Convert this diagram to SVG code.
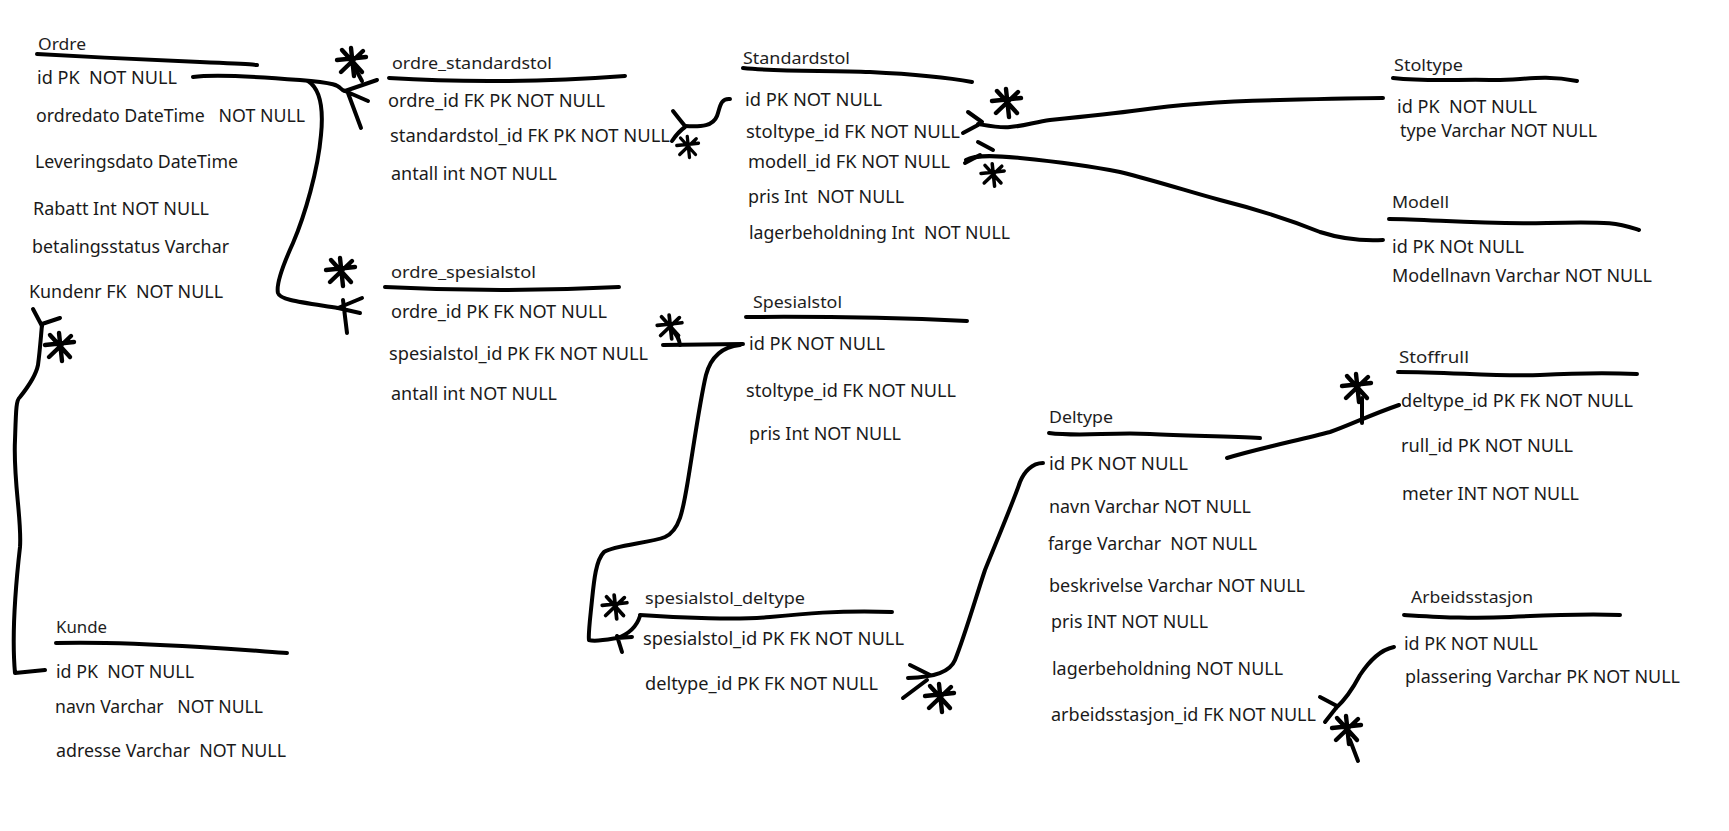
<svg xmlns="http://www.w3.org/2000/svg" xmlns:xlink="http://www.w3.org/1999/xlink" width="1729" height="831" viewBox="0 0 1729 831">
<style>
text{font-family:"Noto Sans","Open Sans","DejaVu Sans",sans-serif;white-space:pre}
.t{font-size:16px;fill:#1e1e1e}
.f{font-size:18px;fill:#1a1a1a}
.ln{fill:none;stroke:#000;stroke-width:4;stroke-linecap:round;stroke-linejoin:round}
.st{fill:none;stroke:#000;stroke-width:4.4;stroke-linecap:round}
</style>
<defs>
<g id="star" class="st">
<path d="M-15 -2 L14 -5 M-10 -12 L10 10 M-1 -14 L2 14 M11 -11 L-11 10"/>
</g>
</defs>
<rect width="1729" height="831" fill="#fff"/>

<g id="connectors">
<!-- Ordre.id -> ordre_standardstol -->
<path class="ln" d="M193 77 C215 74 250 76 300 80 S335 88 345 91"/>
<path class="ln" d="M345 91 L377 80 M345 91 L368 101 M348 93 L361 128 M362 81 L355 68"/>
<use xlink:href="#star" x="352" y="62"/>
<!-- Ordre.id -> ordre_spesialstol -->
<path class="ln" d="M308 81 C322 90 323 115 321 135 C318 170 305 215 293 243 C283 265 276 285 278 293 C280 300 300 302 338 308"/>
<path class="ln" d="M338 308 L362 298 M338 308 L360 313 M343 300 L347 333"/>
<use xlink:href="#star" x="341" y="272"/>
<!-- Kunde.id -> Ordre.Kundenr -->
<path class="ln" d="M45 670 L15 673 C12 640 14 600 20 547 C22 520 13 480 15 440 C16 410 16 400 20 397 C28 387 36 375 38 365 C40 350 41 335 42 325"/>
<path class="ln" d="M42 326 L33 309 M42 324 L60 318"/>
<use xlink:href="#star" x="60" y="347"/>
<!-- Standardstol.id -> ordre_standardstol.standardstol_id -->
<path class="ln" d="M730 99 C720 98 720 108 717 116 C713 126 702 127 685 126"/>
<path class="ln" d="M673 111 Q680 120 685 126 M672 141 Q678 132 685 127"/>
<use xlink:href="#star" x="688" y="147" transform="translate(688 147) scale(0.75) translate(-688 -147)"/>
<!-- Stoltype.id -> Standardstol.stoltype_id -->
<path class="ln" d="M978 124 C990 126 1000 128 1010 127 C1025 126 1035 122 1050 120 C1080 117 1110 114 1140 110 C1180 104 1230 101 1280 100 C1320 99 1360 98 1383 98"/>
<path class="ln" d="M968 112 L982 122 M963 133 L978 125"/>
<use xlink:href="#star" x="1007" y="103"/>
<!-- Modell.id -> Standardstol.modell_id -->
<path class="ln" d="M966 160 C976 154 1000 156 1020 158 C1060 162 1090 166 1120 172 C1160 182 1190 192 1220 200 C1260 210 1290 220 1320 232 C1345 240 1365 241 1383 240"/>
<path class="ln" d="M978 142 L993 150 M965 163 L980 155"/>
<use xlink:href="#star" x="993" y="175" transform="translate(993 175) scale(0.8) translate(-993 -175)"/>
<!-- Spesialstol.id -> ordre_spesialstol.spesialstol_id -->
<path class="ln" d="M663 345 L743 344"/>
<path class="ln" d="M673 331 Q679 337 680 345"/>
<use xlink:href="#star" x="670" y="327" transform="translate(670 327) scale(0.85) translate(-670 -327)"/>
<!-- Spesialstol.id -> spesialstol_deltype.spesialstol_id -->
<path class="ln" d="M740 345 C720 347 710 360 706 375 C700 400 693 450 688 480 C683 510 680 530 665 537 C650 543 615 545 604 552 C596 560 594 580 592 600 C590 620 588 635 589 640 C595 642 605 640 617 638"/>
<path class="ln" d="M617 638 Q635 632 640 616 M617 638 L632 637 M617 636 L622 652"/>
<use xlink:href="#star" x="615" y="607" transform="translate(615 607) scale(0.85) translate(-615 -607)"/>
<!-- Deltype.id -> spesialstol_deltype.deltype_id -->
<path class="ln" d="M1043 463 C1032 463 1024 472 1020 482 C1012 505 995 545 985 570 C975 600 965 635 955 660 C950 672 935 677 908 678"/>
<path class="ln" d="M910 665 L930 675 M903 698 L927 680"/>
<use xlink:href="#star" x="940" y="698"/>
<!-- Deltype.id -> Stoffrull.deltype_id -->
<path class="ln" d="M1227 458 C1260 448 1300 440 1330 432 C1350 425 1370 415 1399 405"/>
<path class="ln" d="M1362 398 L1362 423"/>
<use xlink:href="#star" x="1357" y="388"/>
<!-- Arbeidsstasjon.id -> Deltype.arbeidsstasjon_id -->
<path class="ln" d="M1394 647 C1380 650 1370 660 1360 675 C1352 690 1345 700 1336 708"/>
<path class="ln" d="M1320 697 L1337 706 M1325 722 L1336 708 M1350 740 L1358 761"/>
<use xlink:href="#star" x="1347" y="730"/>
</g>

<g id="Ordre">
<path class="ln" d="M37 54 C90 57 150 60 200 62 S245 64 257 65"/>
<text class="t" x="38" y="50" textLength="48" lengthAdjust="spacingAndGlyphs">Ordre</text>
<text class="f" x="37" y="84" textLength="140" lengthAdjust="spacingAndGlyphs">id PK  NOT NULL</text>
<text class="f" x="36" y="122" textLength="269" lengthAdjust="spacingAndGlyphs">ordredato DateTime   NOT NULL</text>
<text class="f" x="35" y="168" textLength="203" lengthAdjust="spacingAndGlyphs">Leveringsdato DateTime</text>
<text class="f" x="33" y="215" textLength="176" lengthAdjust="spacingAndGlyphs">Rabatt Int NOT NULL</text>
<text class="f" x="32" y="253" textLength="197" lengthAdjust="spacingAndGlyphs">betalingsstatus Varchar</text>
<text class="f" x="29" y="298" textLength="194" lengthAdjust="spacingAndGlyphs">Kundenr FK  NOT NULL</text>
</g>

<g id="Kunde">
<path class="ln" d="M56 643 C90 642 150 644 200 647 S270 652 287 653"/>
<text class="t" x="56" y="633" textLength="51" lengthAdjust="spacingAndGlyphs">Kunde</text>
<text class="f" x="56" y="678" textLength="138" lengthAdjust="spacingAndGlyphs">id PK  NOT NULL</text>
<text class="f" x="55" y="713" textLength="208" lengthAdjust="spacingAndGlyphs">navn Varchar   NOT NULL</text>
<text class="f" x="56" y="757" textLength="230" lengthAdjust="spacingAndGlyphs">adresse Varchar  NOT NULL</text>
</g>

<g id="ordre_standardstol">
<path class="ln" d="M389 78 Q500 85 625 76"/>
<text class="t" x="392" y="69" textLength="160" lengthAdjust="spacingAndGlyphs">ordre_standardstol</text>
<text class="f" x="388" y="107" textLength="217" lengthAdjust="spacingAndGlyphs">ordre_id FK PK NOT NULL</text>
<text class="f" x="390" y="142" textLength="280" lengthAdjust="spacingAndGlyphs">standardstol_id FK PK NOT NULL</text>
<text class="f" x="391" y="180" textLength="166" lengthAdjust="spacingAndGlyphs">antall int NOT NULL</text>
</g>

<g id="Standardstol">
<path class="ln" d="M743 68 C780 72 830 70 870 72 S940 76 972 82"/>
<text class="t" x="743" y="64" textLength="107" lengthAdjust="spacingAndGlyphs">Standardstol</text>
<text class="f" x="745" y="106" textLength="137" lengthAdjust="spacingAndGlyphs">id PK NOT NULL</text>
<text class="f" x="746" y="138" textLength="214" lengthAdjust="spacingAndGlyphs">stoltype_id FK NOT NULL</text>
<text class="f" x="748" y="168" textLength="202" lengthAdjust="spacingAndGlyphs">modell_id FK NOT NULL</text>
<text class="f" x="748" y="203" textLength="156" lengthAdjust="spacingAndGlyphs">pris Int  NOT NULL</text>
<text class="f" x="749" y="239" textLength="261" lengthAdjust="spacingAndGlyphs">lagerbeholdning Int  NOT NULL</text>
</g>

<g id="Stoltype">
<path class="ln" d="M1393 78 C1430 82 1460 79 1490 80 S1540 74 1577 81"/>
<text class="t" x="1394" y="71" textLength="69" lengthAdjust="spacingAndGlyphs">Stoltype</text>
<text class="f" x="1397" y="113" textLength="140" lengthAdjust="spacingAndGlyphs">id PK  NOT NULL</text>
<text class="f" x="1400" y="137" textLength="197" lengthAdjust="spacingAndGlyphs">type Varchar NOT NULL</text>
</g>

<g id="Modell">
<path class="ln" d="M1389 219 C1430 219 1480 225 1547 223 S1620 224 1639 230"/>
<text class="t" x="1392" y="208" textLength="57" lengthAdjust="spacingAndGlyphs">Modell</text>
<text class="f" x="1392" y="253" textLength="132" lengthAdjust="spacingAndGlyphs">id PK NOt NULL</text>
<text class="f" x="1392" y="282" textLength="260" lengthAdjust="spacingAndGlyphs">Modellnavn Varchar NOT NULL</text>
</g>

<g id="ordre_spesialstol">
<path class="ln" d="M385 287 Q500 293 619 287"/>
<text class="t" x="391" y="278" textLength="145" lengthAdjust="spacingAndGlyphs">ordre_spesialstol</text>
<text class="f" x="391" y="318" textLength="216" lengthAdjust="spacingAndGlyphs">ordre_id PK FK NOT NULL</text>
<text class="f" x="389" y="360" textLength="259" lengthAdjust="spacingAndGlyphs">spesialstol_id PK FK NOT NULL</text>
<text class="f" x="391" y="400" textLength="166" lengthAdjust="spacingAndGlyphs">antall int NOT NULL</text>
</g>

<g id="Spesialstol">
<path class="ln" d="M746 317 Q860 316 967 321"/>
<text class="t" x="753" y="308" textLength="89" lengthAdjust="spacingAndGlyphs">Spesialstol</text>
<text class="f" x="749" y="350" textLength="136" lengthAdjust="spacingAndGlyphs">id PK NOT NULL</text>
<text class="f" x="746" y="397" textLength="210" lengthAdjust="spacingAndGlyphs">stoltype_id FK NOT NULL</text>
<text class="f" x="749" y="440" textLength="152" lengthAdjust="spacingAndGlyphs">pris Int NOT NULL</text>
</g>

<g id="spesialstol_deltype">
<path class="ln" d="M640 615 C680 618 740 620 770 617 S840 610 892 612"/>
<text class="t" x="645" y="604" textLength="160" lengthAdjust="spacingAndGlyphs">spesialstol_deltype</text>
<text class="f" x="643" y="645" textLength="261" lengthAdjust="spacingAndGlyphs">spesialstol_id PK FK NOT NULL</text>
<text class="f" x="645" y="690" textLength="233" lengthAdjust="spacingAndGlyphs">deltype_id PK FK NOT NULL</text>
</g>

<g id="Deltype">
<path class="ln" d="M1049 433 C1080 437 1110 432 1150 434 S1230 436 1260 438"/>
<text class="t" x="1049" y="423" textLength="64" lengthAdjust="spacingAndGlyphs">Deltype</text>
<text class="f" x="1049" y="470" textLength="139" lengthAdjust="spacingAndGlyphs">id PK NOT NULL</text>
<text class="f" x="1049" y="513" textLength="202" lengthAdjust="spacingAndGlyphs">navn Varchar NOT NULL</text>
<text class="f" x="1048" y="550" textLength="209" lengthAdjust="spacingAndGlyphs">farge Varchar  NOT NULL</text>
<text class="f" x="1049" y="592" textLength="256" lengthAdjust="spacingAndGlyphs">beskrivelse Varchar NOT NULL</text>
<text class="f" x="1051" y="628" textLength="157" lengthAdjust="spacingAndGlyphs">pris INT NOT NULL</text>
<text class="f" x="1052" y="675" textLength="231" lengthAdjust="spacingAndGlyphs">lagerbeholdning NOT NULL</text>
<text class="f" x="1051" y="721" textLength="265" lengthAdjust="spacingAndGlyphs">arbeidsstasjon_id FK NOT NULL</text>
</g>

<g id="Stoffrull">
<path class="ln" d="M1398 372 C1450 372 1500 377 1540 375 S1610 373 1637 374"/>
<text class="t" x="1399" y="363" textLength="70" lengthAdjust="spacingAndGlyphs">Stoffrull</text>
<text class="f" x="1401" y="407" textLength="232" lengthAdjust="spacingAndGlyphs">deltype_id PK FK NOT NULL</text>
<text class="f" x="1401" y="452" textLength="172" lengthAdjust="spacingAndGlyphs">rull_id PK NOT NULL</text>
<text class="f" x="1402" y="500" textLength="177" lengthAdjust="spacingAndGlyphs">meter INT NOT NULL</text>
</g>

<g id="Arbeidsstasjon">
<path class="ln" d="M1404 615 C1440 617 1470 619 1510 617 S1590 614 1620 615"/>
<text class="t" x="1411" y="603" textLength="122" lengthAdjust="spacingAndGlyphs">Arbeidsstasjon</text>
<text class="f" x="1404" y="650" textLength="134" lengthAdjust="spacingAndGlyphs">id PK NOT NULL</text>
<text class="f" x="1405" y="683" textLength="275" lengthAdjust="spacingAndGlyphs">plassering Varchar PK NOT NULL</text>
</g>
</svg>
